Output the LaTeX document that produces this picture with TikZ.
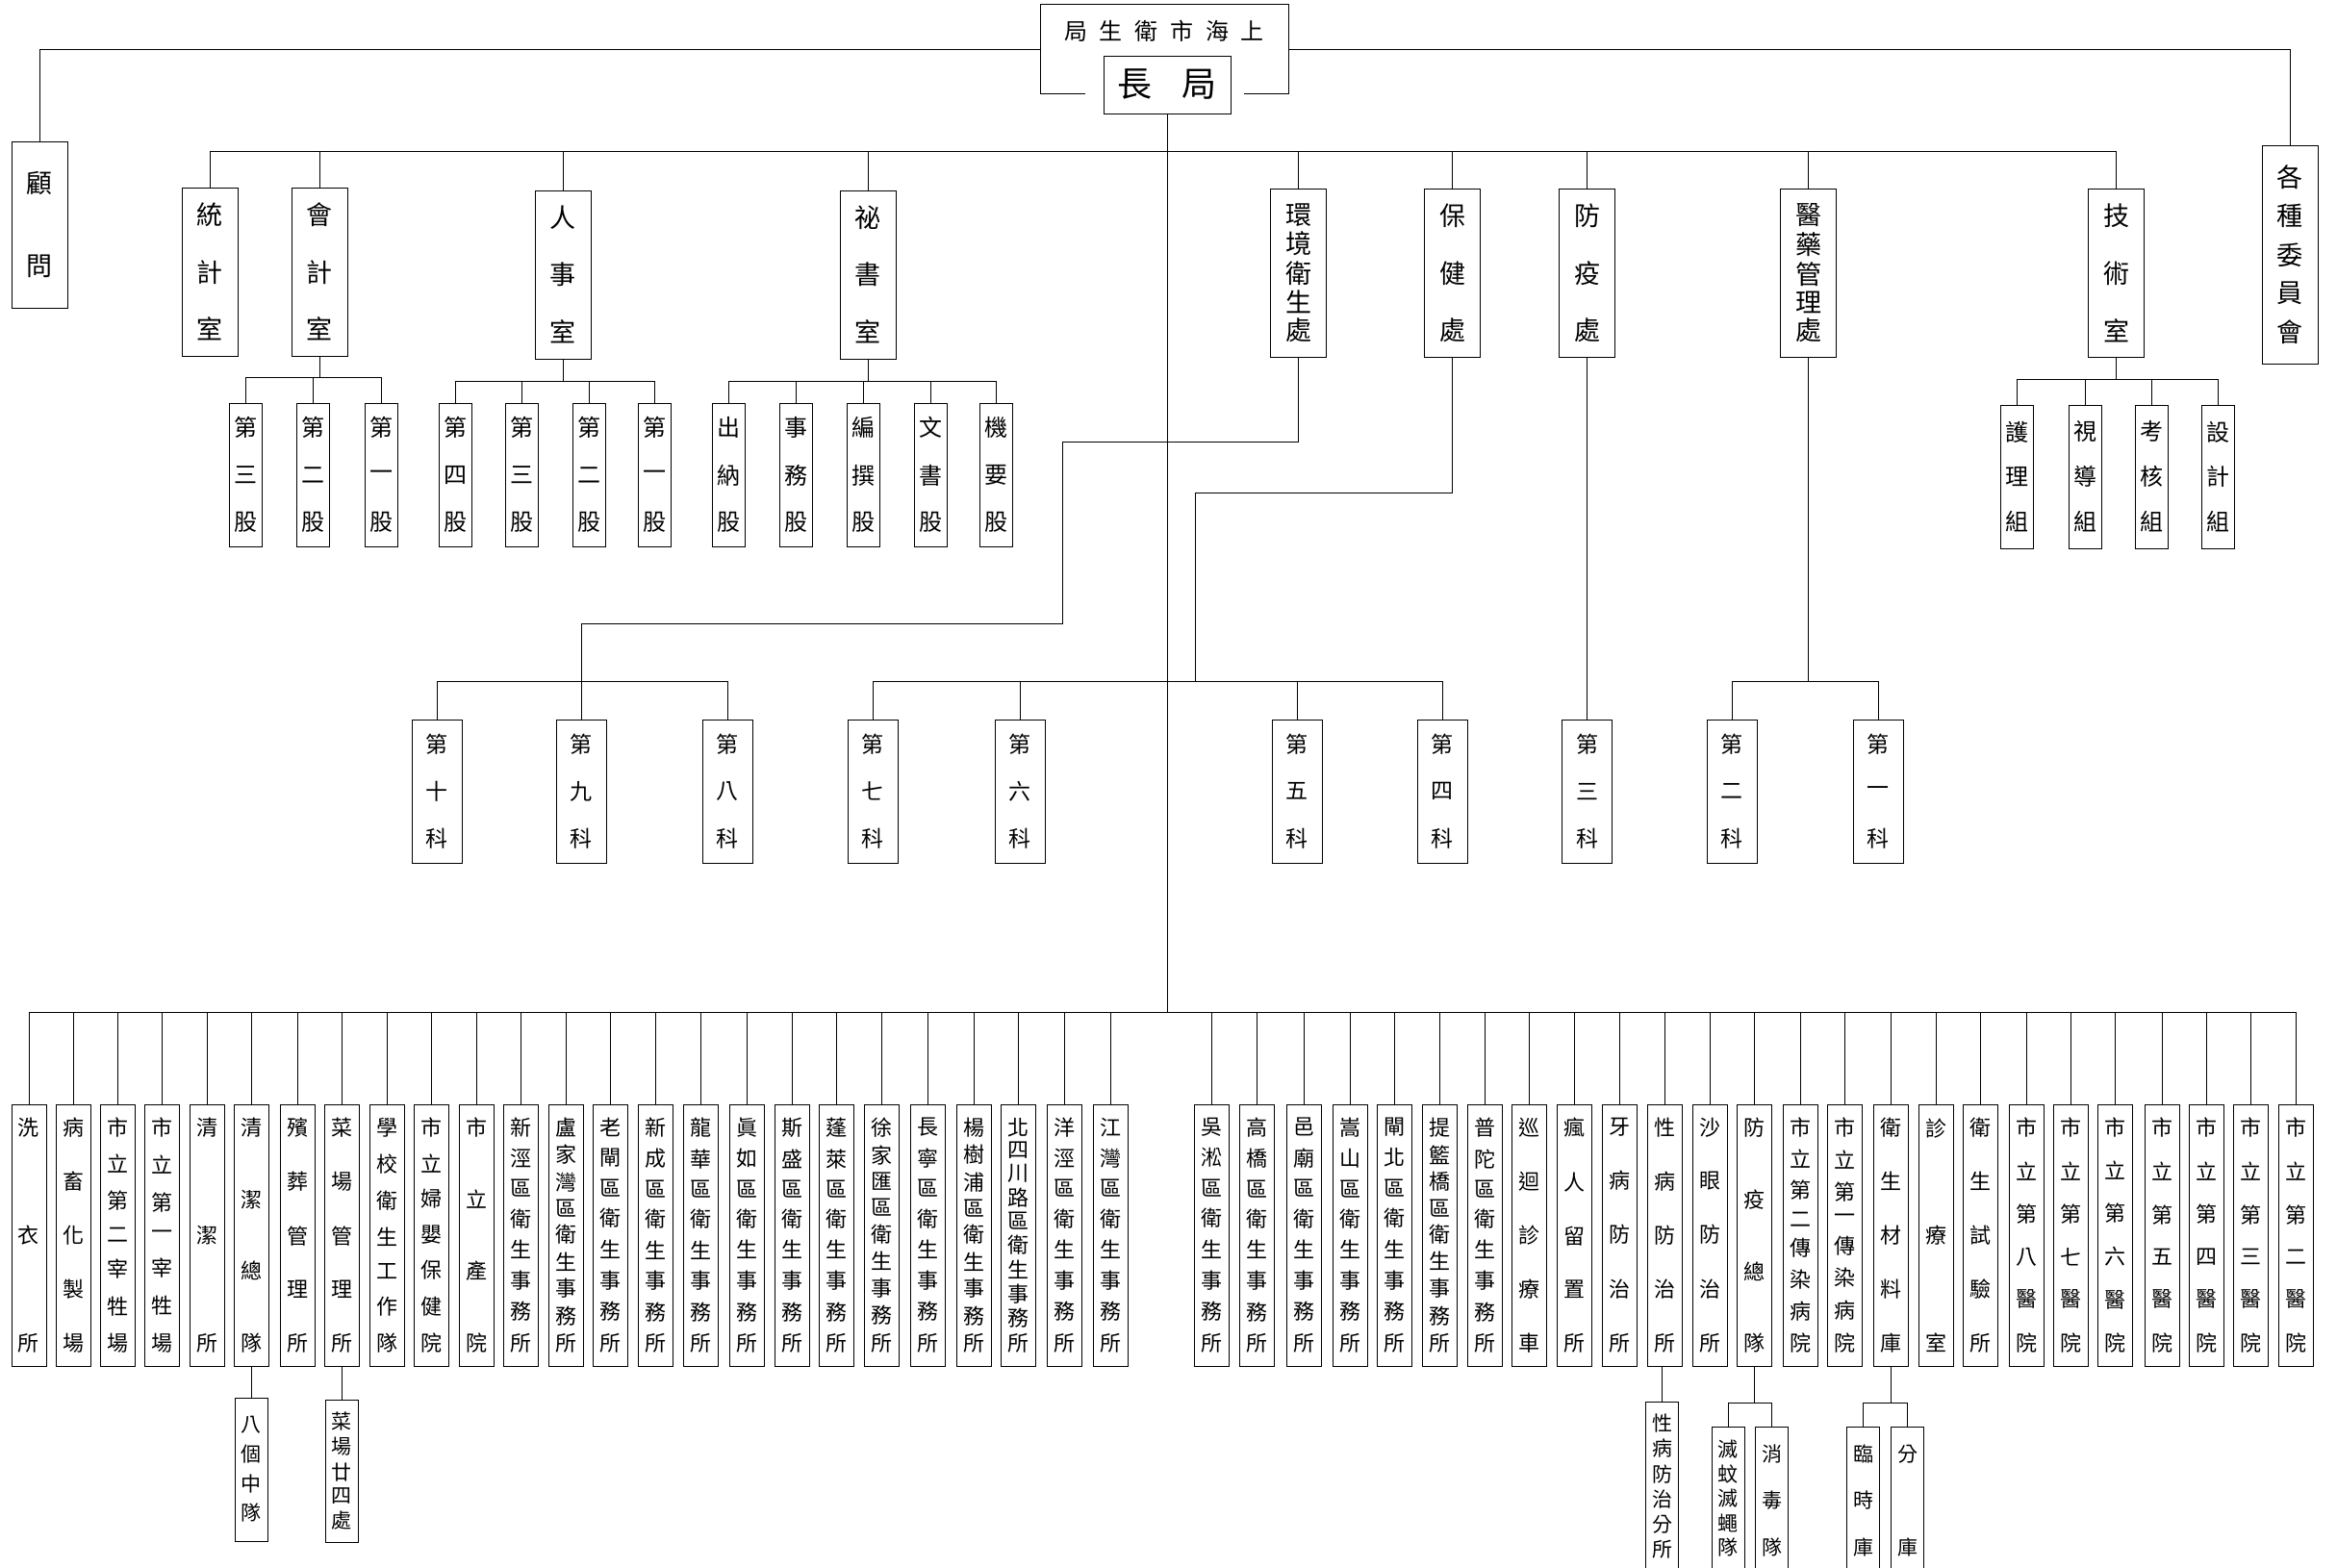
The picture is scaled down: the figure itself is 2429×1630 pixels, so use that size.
\documentclass[tikz,border=0pt]{standalone}
\usepackage{fontspec}
\setmainfont{Noto Sans CJK TC}
\usetikzlibrary{positioning,calc}

% a column of characters spread over a given height
\newcommand\vt[2]{\vbox to #1{\offinterlineskip\vtfirst#2\relax}}
\def\vtfirst#1{\hbox to 1em{\hss#1\hss}\vtnext}
\def\vtnext#1{\ifx\relax#1\else\vfill\hbox to 1em{\hss#1\hss}\expandafter\vtnext\fi}

\begin{document}
\begin{tikzpicture}[x=1pt, y=-1pt,
  unit/.style={rectangle, draw, line width=1pt, inner sep=0pt, minimum width=58, minimum height=175, font=\fontsize{27}{27}\selectfont},
  sect/.style={rectangle, draw, line width=1pt, inner sep=0pt, minimum width=34, minimum height=149, font=\fontsize{24}{24}\selectfont},
  ke/.style={rectangle, draw, line width=1pt, inner sep=0pt, minimum width=52, minimum height=149, font=\fontsize{23}{23}\selectfont},
  low/.style={rectangle, draw, line width=1pt, inner sep=0pt, minimum width=36, minimum height=272, font=\fontsize{22}{22}\selectfont},
  sub/.style={rectangle, draw, line width=1pt, inner sep=0pt, minimum width=34, font=\fontsize{21}{21}\selectfont},
  link/.style={line width=1pt}
]
\useasboundingbox (0,0) rectangle (2429,1630);
\clip (0,0) rectangle (2429,1630);

% Top: bureau and its chief
\node[rectangle, inner sep=0pt, minimum width=257, minimum height=92] (bureau) at (1210.5,51) {};
\node (title) at (1210,32) {\fontsize{24}{24}\selectfont 局\hspace{12.8pt}生\hspace{12.8pt}衛\hspace{12.8pt}市\hspace{12.8pt}海\hspace{12.8pt}上};
\node[rectangle, draw, line width=1pt, inner sep=0pt, minimum width=132, minimum height=60, font=\fontsize{36}{36}\selectfont] (chief) at (1213,88) {長\hspace{31pt}局};
\draw[link] ([xshift=46pt]bureau.south west) -- (bureau.south west) -- (bureau.north west) -- (bureau.north east) -- (bureau.south east) -- ([xshift=-46pt]bureau.south east);

% Adviser and committees
\node[unit, minimum height=173] (adviser) at (41,233.5) {\vt{109pt}{顧問}};
\node[unit, minimum height=227] (committee) at (2380,264.5) {\vt{184pt}{各種委員會}};
\draw[link] (bureau.west) -| (adviser.north);
\draw[link] (bureau.east) -| (committee.north);

% Offices and departments
\coordinate (mainbus) at (0,157);
\node[unit] (tongji) at (218,282.5) {\vt{142pt}{統計室}};
\node[unit] (kuaiji) at (332,282.5) {\vt{142pt}{會計室}};
\node[unit] (renshi) at (585,285.5) {\vt{142pt}{人事室}};
\node[unit] (mishu) at (902,285.5) {\vt{142pt}{祕書室}};
\node[unit] (huanjing) at (1349.5,284) {\vt{142pt}{環境衛生處}};
\node[unit] (baojian) at (1509.5,284) {\vt{142pt}{保健處}};
\node[unit] (fangyi) at (1649.5,284) {\vt{142pt}{防疫處}};
\node[unit] (yiyao) at (1879.5,284) {\vt{142pt}{醫藥管理處}};
\node[unit] (jishu) at (2199.5,284) {\vt{142pt}{技術室}};
\draw[link] (tongji.north) |- (jishu.north |- mainbus) -- (jishu.north);
\draw[link] (kuaiji.north) -- (kuaiji.north |- mainbus);
\draw[link] (renshi.north) -- (renshi.north |- mainbus);
\draw[link] (mishu.north) -- (mishu.north |- mainbus);
\draw[link] (huanjing.north) -- (huanjing.north |- mainbus);
\draw[link] (baojian.north) -- (baojian.north |- mainbus);
\draw[link] (fangyi.north) -- (fangyi.north |- mainbus);
\draw[link] (yiyao.north) -- (yiyao.north |- mainbus);

% Sections under the offices
\coordinate (kjbus) at (0,392);
\node[sect] (kj3) at (255.5,493.5) {\vt{118pt}{第三股}};
\node[sect] (kj2) at (325,493.5) {\vt{118pt}{第二股}};
\node[sect] (kj1) at (396,493.5) {\vt{118pt}{第一股}};
\draw[link] (kuaiji.south) -- (kuaiji.south |- kjbus);
\draw[link] (kj3.north) |- (kj1.north |- kjbus) -- (kj1.north);
\draw[link] (kj2.north) -- (kj2.north |- kjbus);

\coordinate (rsbus) at (0,396);
\node[sect] (rs4) at (473.5,493.5) {\vt{118pt}{第四股}};
\node[sect] (rs3) at (542.5,493.5) {\vt{118pt}{第三股}};
\node[sect] (rs2) at (612,493.5) {\vt{118pt}{第二股}};
\node[sect] (rs1) at (680.5,493.5) {\vt{118pt}{第一股}};
\draw[link] (renshi.south) -- (renshi.south |- rsbus);
\draw[link] (rs4.north) |- (rs1.north |- rsbus) -- (rs1.north);
\draw[link] (rs3.north) -- (rs3.north |- rsbus);
\draw[link] (rs2.north) -- (rs2.north |- rsbus);

\coordinate (msbus) at (0,396);
\node[sect] (ms1) at (757.5,493.5) {\vt{118pt}{出納股}};
\node[sect] (ms2) at (827,493.5) {\vt{118pt}{事務股}};
\node[sect] (ms3) at (897,493.5) {\vt{118pt}{編撰股}};
\node[sect] (ms4) at (967.5,493.5) {\vt{118pt}{文書股}};
\node[sect] (ms5) at (1035.5,493.5) {\vt{118pt}{機要股}};
\draw[link] (mishu.south) -- (mishu.south |- msbus);
\draw[link] (ms1.north) |- (ms5.north |- msbus) -- (ms5.north);
\draw[link] (ms2.north) -- (ms2.north |- msbus);
\draw[link] (ms3.north) -- (ms3.north |- msbus);
\draw[link] (ms4.north) -- (ms4.north |- msbus);

\coordinate (jsbus) at (0,394);
\node[sect] (js1) at (2096.5,495.5) {\vt{114pt}{護理組}};
\node[sect] (js2) at (2167,495.5) {\vt{114pt}{視導組}};
\node[sect] (js3) at (2236,495.5) {\vt{114pt}{考核組}};
\node[sect] (js4) at (2305.5,495.5) {\vt{114pt}{設計組}};
\draw[link] (jishu.south) -- (jishu.south |- jsbus);
\draw[link] (js1.north) |- (js4.north |- jsbus) -- (js4.north);
\draw[link] (js2.north) -- (js2.north |- jsbus);
\draw[link] (js3.north) -- (js3.north |- jsbus);

% Divisions
\coordinate (kebus) at (0,708);
\node[ke] (k10) at (454,822.5) {\vt{118pt}{第十科}};
\node[ke] (k9) at (604,822.5) {\vt{118pt}{第九科}};
\node[ke] (k8) at (756,822.5) {\vt{118pt}{第八科}};
\node[ke] (k7) at (907,822.5) {\vt{118pt}{第七科}};
\node[ke] (k6) at (1060,822.5) {\vt{118pt}{第六科}};
\node[ke] (k5) at (1348,822.5) {\vt{118pt}{第五科}};
\node[ke] (k4) at (1499,822.5) {\vt{118pt}{第四科}};
\node[ke] (k3) at (1649.5,822.5) {\vt{118pt}{第三科}};
\node[ke] (k2) at (1800,822.5) {\vt{118pt}{第二科}};
\node[ke] (k1) at (1952,822.5) {\vt{118pt}{第一科}};

\coordinate (hjturn) at (1104,459);
\coordinate (hjdown) at (1104,648);
\draw[link] (huanjing.south) |- (hjturn) -- (hjdown) -| (k9.north |- kebus);
\draw[link] (k10.north) |- (k8.north |- kebus) -- (k8.north);
\draw[link] (k9.north) -- (k9.north |- kebus);

\coordinate (bjturn) at (1242,512);
\draw[link] (baojian.south) |- (bjturn) -- (bjturn |- kebus);
\draw[link] (k7.north) |- (k4.north |- kebus) -- (k4.north);
\draw[link] (k6.north) -- (k6.north |- kebus);
\draw[link] (k5.north) -- (k5.north |- kebus);

\draw[link] (fangyi.south) -- (k3.north);

\draw[link] (yiyao.south) -- (yiyao.south |- kebus);
\draw[link] (k2.north) |- (k1.north |- kebus) -- (k1.north);

% Trunk to the field units
\coordinate (lowbus) at (0,1052);
\draw[link] (chief.south) -- (chief.south |- lowbus);

% Field units, left half
\node[low] (l1) at (30,1284) {\vt{242pt}{洗衣所}};
\node[low] (l2) at (76,1284) {\vt{242pt}{病畜化製場}};
\node[low] (l3) at (122,1284) {\vt{242pt}{市立第二宰牲場}};
\node[low] (l4) at (168,1284) {\vt{242pt}{市立第一宰牲場}};
\node[low] (l5) at (215,1284) {\vt{242pt}{清潔所}};
\node[low] (l6) at (261,1284) {\vt{242pt}{清潔總隊}};
\node[low] (l7) at (309,1284) {\vt{242pt}{殯葬管理所}};
\node[low] (l8) at (355,1284) {\vt{242pt}{菜場管理所}};
\node[low] (l9) at (402,1284) {\vt{242pt}{學校衛生工作隊}};
\node[low] (l10) at (448,1284) {\vt{242pt}{市立婦嬰保健院}};
\node[low] (l11) at (495,1284) {\vt{242pt}{市立產院}};
\node[low] (l12) at (541.5,1284) {\vt{242pt}{新涇區衛生事務所}};
\node[low] (l13) at (588,1284) {\vt{242pt}{盧家灣區衛生事務所}};
\node[low] (l14) at (634,1284) {\vt{242pt}{老閘區衛生事務所}};
\node[low] (l15) at (681.5,1284) {\vt{242pt}{新成區衛生事務所}};
\node[low] (l16) at (728,1284) {\vt{242pt}{龍華區衛生事務所}};
\node[low] (l17) at (776,1284) {\vt{242pt}{眞如區衛生事務所}};
\node[low] (l18) at (823,1284) {\vt{242pt}{斯盛區衛生事務所}};
\node[low] (l19) at (869,1284) {\vt{242pt}{蓬萊區衛生事務所}};
\node[low] (l20) at (916.5,1284) {\vt{242pt}{徐家匯區衛生事務所}};
\node[low] (l21) at (964,1284) {\vt{242pt}{長寧區衛生事務所}};
\node[low] (l22) at (1012,1284) {\vt{242pt}{楊樹浦區衛生事務所}};
\node[low] (l23) at (1058,1284) {\vt{242pt}{北四川路區衛生事務所}};
\node[low] (l24) at (1106,1284) {\vt{242pt}{洋涇區衛生事務所}};
\node[low] (l25) at (1154,1284) {\vt{242pt}{江灣區衛生事務所}};

% Field units, right half
\node[low] (r1) at (1259.5,1284) {\vt{242pt}{吳淞區衛生事務所}};
\node[low] (r2) at (1306.5,1284) {\vt{242pt}{高橋區衛生事務所}};
\node[low] (r3) at (1355,1284) {\vt{242pt}{邑廟區衛生事務所}};
\node[low] (r4) at (1403,1284) {\vt{242pt}{嵩山區衛生事務所}};
\node[low] (r5) at (1449.5,1284) {\vt{242pt}{閘北區衛生事務所}};
\node[low] (r6) at (1496.5,1284) {\vt{242pt}{提籃橋區衛生事務所}};
\node[low] (r7) at (1543.5,1284) {\vt{242pt}{普陀區衛生事務所}};
\node[low] (r8) at (1589.5,1284) {\vt{242pt}{巡迴診療車}};
\node[low] (r9) at (1636.5,1284) {\vt{242pt}{瘋人留置所}};
\node[low] (r10) at (1683,1284) {\vt{242pt}{牙病防治所}};
\node[low] (r11) at (1730.5,1284) {\vt{242pt}{性病防治所}};
\node[low] (r12) at (1777,1284) {\vt{242pt}{沙眼防治所}};
\node[low] (r13) at (1823.5,1284) {\vt{242pt}{防疫總隊}};
\node[low] (r14) at (1871,1284) {\vt{242pt}{市立第二傳染病院}};
\node[low] (r15) at (1917.5,1284) {\vt{242pt}{市立第一傳染病院}};
\node[low] (r16) at (1965,1284) {\vt{242pt}{衛生材料庫}};
\node[low] (r17) at (2012.5,1284) {\vt{242pt}{診療室}};
\node[low] (r18) at (2058.5,1284) {\vt{242pt}{衛生試驗所}};
\node[low] (r19) at (2106.5,1284) {\vt{242pt}{市立第八醫院}};
\node[low] (r20) at (2152.5,1284) {\vt{242pt}{市立第七醫院}};
\node[low] (r21) at (2198.5,1284) {\vt{242pt}{市立第六醫院}};
\node[low] (r22) at (2247.5,1284) {\vt{242pt}{市立第五醫院}};
\node[low] (r23) at (2293.5,1284) {\vt{242pt}{市立第四醫院}};
\node[low] (r24) at (2339.5,1284) {\vt{242pt}{市立第三醫院}};
\node[low] (r25) at (2386,1284) {\vt{242pt}{市立第二醫院}};

% Bus and drops to the field units
\draw[link] (l1.north) |- (r25.north |- lowbus) -- (r25.north);
\draw[link] (l2) -- (l2 |- lowbus); \draw[link] (l3) -- (l3 |- lowbus);
\draw[link] (l4) -- (l4 |- lowbus); \draw[link] (l5) -- (l5 |- lowbus);
\draw[link] (l6) -- (l6 |- lowbus); \draw[link] (l7) -- (l7 |- lowbus);
\draw[link] (l8) -- (l8 |- lowbus); \draw[link] (l9) -- (l9 |- lowbus);
\draw[link] (l10) -- (l10 |- lowbus); \draw[link] (l11) -- (l11 |- lowbus);
\draw[link] (l12) -- (l12 |- lowbus); \draw[link] (l13) -- (l13 |- lowbus);
\draw[link] (l14) -- (l14 |- lowbus); \draw[link] (l15) -- (l15 |- lowbus);
\draw[link] (l16) -- (l16 |- lowbus); \draw[link] (l17) -- (l17 |- lowbus);
\draw[link] (l18) -- (l18 |- lowbus); \draw[link] (l19) -- (l19 |- lowbus);
\draw[link] (l20) -- (l20 |- lowbus); \draw[link] (l21) -- (l21 |- lowbus);
\draw[link] (l22) -- (l22 |- lowbus); \draw[link] (l23) -- (l23 |- lowbus);
\draw[link] (l24) -- (l24 |- lowbus); \draw[link] (l25) -- (l25 |- lowbus);
\draw[link] (r1) -- (r1 |- lowbus); \draw[link] (r2) -- (r2 |- lowbus);
\draw[link] (r3) -- (r3 |- lowbus); \draw[link] (r4) -- (r4 |- lowbus);
\draw[link] (r5) -- (r5 |- lowbus); \draw[link] (r6) -- (r6 |- lowbus);
\draw[link] (r7) -- (r7 |- lowbus); \draw[link] (r8) -- (r8 |- lowbus);
\draw[link] (r9) -- (r9 |- lowbus); \draw[link] (r10) -- (r10 |- lowbus);
\draw[link] (r11) -- (r11 |- lowbus); \draw[link] (r12) -- (r12 |- lowbus);
\draw[link] (r13) -- (r13 |- lowbus); \draw[link] (r14) -- (r14 |- lowbus);
\draw[link] (r15) -- (r15 |- lowbus); \draw[link] (r16) -- (r16 |- lowbus);
\draw[link] (r17) -- (r17 |- lowbus); \draw[link] (r18) -- (r18 |- lowbus);
\draw[link] (r19) -- (r19 |- lowbus); \draw[link] (r20) -- (r20 |- lowbus);
\draw[link] (r21) -- (r21 |- lowbus); \draw[link] (r22) -- (r22 |- lowbus);
\draw[link] (r23) -- (r23 |- lowbus); \draw[link] (r24) -- (r24 |- lowbus);

% Branch units
\node[sub, minimum height=149] (s1) at (261,1527.5) {\vt{108.5pt}{八個中隊}};
\node[sub, minimum height=148] (s2) at (355,1529) {\vt{120.5pt}{菜場廿四處}};
\draw[link] (l6) -- (s1);
\draw[link] (l8) -- (s2);

\node[sub, minimum height=176] (s3) at (1727.5,1545) {\vt{148.5pt}{性病防治分所}};
\draw[link] (s3 |- r11.south) -- (s3);

\coordinate (fybus) at (0,1458);
\node[sub, minimum height=149] (s4) at (1796,1557.5) {\vt{119.5pt}{滅蚊滅蠅隊}};
\node[sub, minimum height=154] (s5) at (1841.5,1560) {\vt{114.5pt}{消毒隊}};
\draw[link] (r13.south) -- (r13.south |- fybus);
\draw[link] (s4.north) |- (s5.north |- fybus) -- (s5.north);

\coordinate (clbus) at (0,1458);
\node[sub, minimum height=154] (s6) at (1936.5,1560) {\vt{114.5pt}{臨時庫}};
\node[sub, minimum height=154] (s7) at (1982.5,1560) {\vt{114.5pt}{分庫}};
\draw[link] (r16.south) -- (r16.south |- clbus);
\draw[link] (s6.north) |- (s7.north |- clbus) -- (s7.north);

\end{tikzpicture}
\end{document}
